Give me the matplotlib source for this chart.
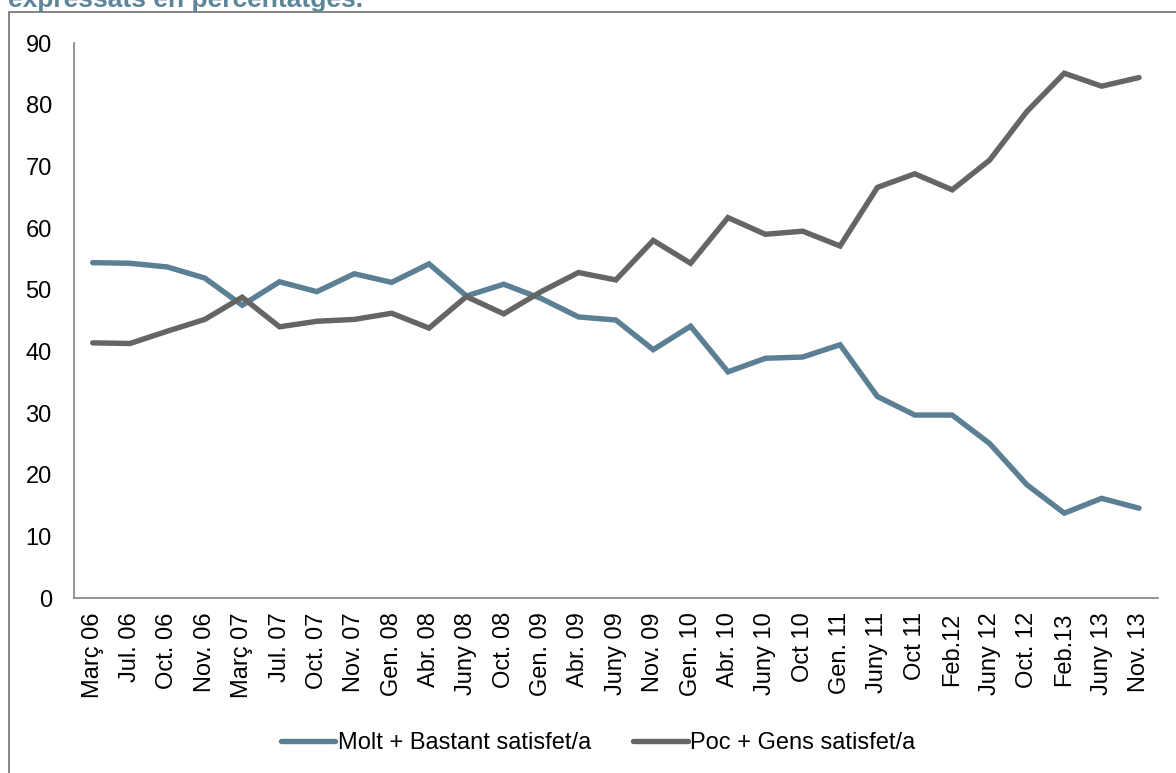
import numpy as np
import matplotlib
matplotlib.use('Agg')
import matplotlib.pyplot as plt
from matplotlib.patches import Rectangle

plt.rcParams['font.family'] = ['Liberation Sans', 'DejaVu Sans']

periods = ['Març 06', 'Jul. 06', 'Oct. 06', 'Nov. 06', 'Març 07', 'Jul. 07', 'Oct. 07',
           'Nov. 07', 'Gen. 08', 'Abr. 08', 'Juny 08', 'Oct. 08', 'Gen. 09', 'Abr. 09',
           'Juny 09', 'Nov. 09', 'Gen. 10', 'Abr. 10', 'Juny 10', 'Oct 10', 'Gen. 11',
           'Juny 11', 'Oct 11', 'Feb.12', 'Juny 12', 'Oct. 12', 'Feb.13', 'Juny 13', 'Nov. 13']

# Molt + Bastant satisfet/a
satisfied = [54.4, 54.3, 53.7, 51.9, 47.5, 51.3, 49.7, 52.6, 51.2, 54.2, 49.0, 50.9, 48.6,
             45.6, 45.1, 40.3, 44.1, 36.7, 38.9, 39.1, 41.1, 32.7, 29.7, 29.7, 25.1, 18.4,
             13.8, 16.2, 14.6]
# Poc + Gens satisfet/a
unsatisfied = [41.4, 41.3, 43.3, 45.2, 48.8, 44.0, 44.9, 45.2, 46.2, 43.8, 48.9, 46.1, 49.7,
               52.8, 51.6, 58.0, 54.3, 61.7, 59.0, 59.5, 57.1, 66.6, 68.8, 66.2, 71.0, 78.9,
               85.1, 83.0, 84.4]

labels = ['Molt + Bastant satisfet/a', 'Poc + Gens satisfet/a']
yticks = np.arange(0, 91, 10)

blue = '#5b7f94'
grey = '#636665'
axis_grey = '#8c8c8c'
fs = 17

fig = plt.figure(figsize=(11.76, 7.73), dpi=100)

# outer frame of the original document box
fig.patches.append(Rectangle((8.5 / 1176, -0.1), 1.2, 1 - 12 / 773 + 0.1,
                             transform=fig.transFigure, fill=False,
                             edgecolor='#7a7a7a', linewidth=1.3, zorder=0))

# cut-off caption line above the box
fig.text(8 / 1176, 1 - 7 / 773, 'expressats en percentatges.', fontsize=19,
         fontweight='bold', color='#5e8599', ha='left', va='baseline')

ax = fig.add_axes([74 / 1176, 1 - 598.3 / 773, (1157.7 - 74) / 1176, (598.3 - 43) / 773])

x = np.arange(len(periods))
ax.plot(x, satisfied, color=blue, lw=3.9, solid_capstyle='round', solid_joinstyle='miter',
        label=labels[0])
ax.plot(x, unsatisfied, color=grey, lw=3.9, solid_capstyle='round', solid_joinstyle='miter',
        label=labels[1])

ax.set_xlim(-0.5, len(periods) - 0.5)
ax.set_ylim(0, 90)
ax.set_yticks(yticks)
ax.set_xticks(x)
ax.set_xticklabels(periods, rotation=90, fontsize=fs)
ax.tick_params(axis='y', length=0, pad=16, labelsize=fs)
ax.tick_params(axis='x', length=0, pad=10)

for s in ['top', 'right']:
    ax.spines[s].set_visible(False)
for s in ['left', 'bottom']:
    ax.spines[s].set_color(axis_grey)
    ax.spines[s].set_linewidth(1.3)

leg = fig.legend(loc='center', bbox_to_anchor=(598 / 1176, 1 - 743 / 773), ncol=2,
                 frameon=False, fontsize=fs, handlelength=2.3, handletextpad=0.1,
                 columnspacing=1.8)

fig.savefig('out.png', dpi=100)
